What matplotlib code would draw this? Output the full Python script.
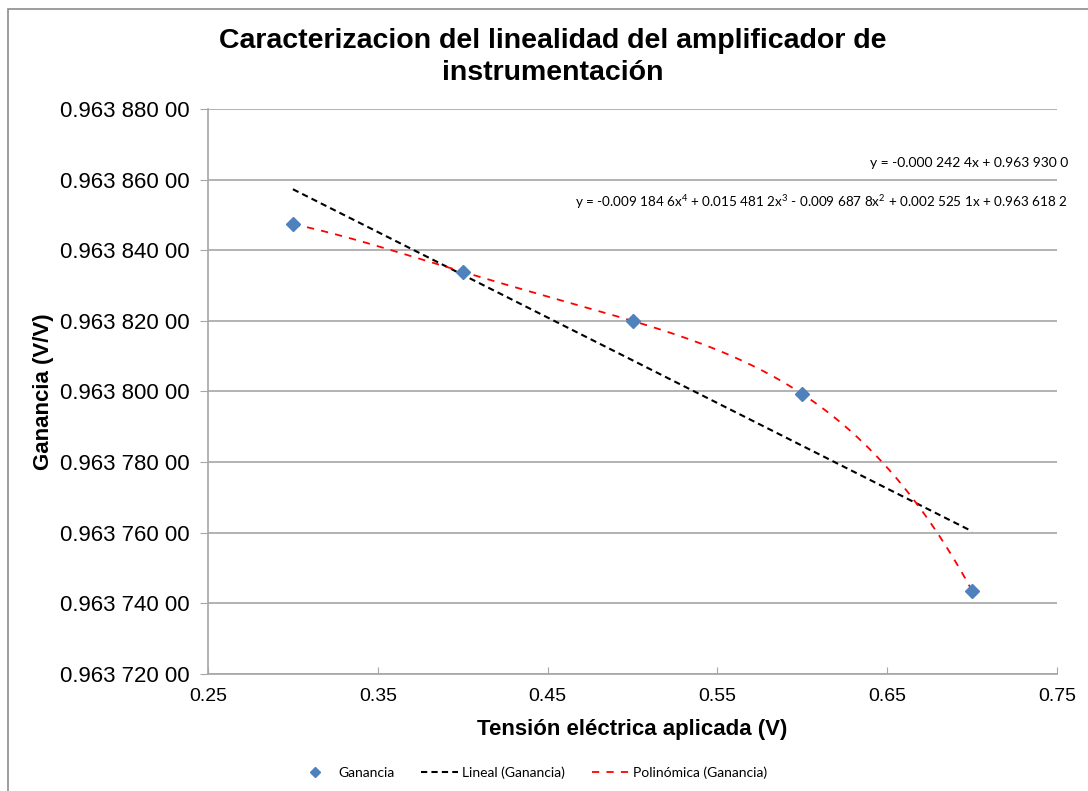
import numpy as np
import matplotlib
matplotlib.use("Agg")
import matplotlib.pyplot as plt
from matplotlib.ticker import FuncFormatter, MultipleLocator, FixedLocator
from matplotlib.patches import Rectangle

plt.rcParams['font.family'] = ['Liberation Sans', 'DejaVu Sans']
plt.rcParams['mathtext.fontset'] = 'custom'
plt.rcParams['mathtext.rm'] = 'Lato'

# data
tension = [0.3, 0.4, 0.5, 0.6, 0.7]
ganancia = [0.9638474, 0.9638339, 0.9638200, 0.9637993, 0.9637436]
x_ticks = [0.25, 0.35, 0.45, 0.55, 0.65, 0.75]

eq_lineal = "y = -0.000 242 4x + 0.963 930 0"
eq_poli = ("y = -0.009 184 6x$^{4}$ + 0.015 481 2x$^{3}$ - 0.009 687 8x$^{2}$"
           " + 0.002 525 1x + 0.963 618 2")

fig = plt.figure(figsize=(10.88, 7.91), dpi=100)
ax = fig.add_axes([208/1088, 1-674/791, (1057-208)/1088, (674-109)/791])

x = np.array(tension)
y = np.array(ganancia)

# trendlines
c1 = np.polyfit(x, y, 1)
c4 = np.polyfit(x, y, 4)
xs = np.linspace(0.3, 0.7, 200)
ax.plot(xs, np.polyval(c1, xs), '--', color='black', lw=1.5, dashes=(3, 2),
        label='Lineal (Ganancia)', zorder=3)
ax.plot(xs, np.polyval(c4, xs), '--', color='#FF0000', lw=1.3, dashes=(4, 4),
        label='Polinómica (Ganancia)', zorder=3)
ax.plot(x, y, 'D', color='#4F81BD', ms=7, label='Ganancia', zorder=4)

ax.set_xlim(0.25, 0.75)
ax.set_ylim(0.96372, 0.96388)
ax.xaxis.set_major_locator(FixedLocator(x_ticks))
ax.yaxis.set_major_locator(MultipleLocator(0.00002))


def fmt_y(v, pos):
    s = f"{v:.8f}"
    a, b = s.split('.')
    return f"{a}.{b[0:3]} {b[3:6]} {b[6:8]}"


ax.yaxis.set_major_formatter(FuncFormatter(fmt_y))
ax.xaxis.set_major_formatter(FuncFormatter(lambda v, p: f"{v:.2f}"))

ax.grid(axis='y', color='#A6A6A6', lw=1.2)
ax.set_axisbelow(True)
for s in ['top', 'right']:
    ax.spines[s].set_visible(False)
for s in ['left', 'bottom']:
    ax.spines[s].set_color('#A6A6A6')
    ax.spines[s].set_linewidth(1.2)
ax.tick_params(axis='y', direction='out', length=6, color='#A6A6A6',
               labelsize=16, pad=7)
ax.tick_params(axis='x', direction='in', length=5, color='#A6A6A6',
               labelsize=14, pad=10)

ax.set_xlabel('Tensión eléctrica aplicada (V)', fontsize=16, fontweight='bold',
              labelpad=10)
ax.set_ylabel('Ganancia (V/V)', fontsize=16, fontweight='bold', labelpad=0)
ax.yaxis.set_label_coords(-(208 - 54)/(1057 - 208), 0.5)

fig.text(553/1088, 1-57/791,
         'Caracterizacion del linealidad del amplificador de\ninstrumentación',
         ha='center', va='center', fontsize=20.5, fontweight='bold',
         linespacing=1.3)

fig.text(1068/1088, 1-163/791, eq_lineal, ha='right', va='center',
         fontsize=10, family='Lato')
fig.text(1068/1088, 1-202/791, eq_poli, ha='right', va='center',
         fontsize=9.7, family='Lato')

h, l = ax.get_legend_handles_labels()
order = [2, 0, 1]
fig.legend([h[i] for i in order], [l[i] for i in order], loc='center',
           bbox_to_anchor=(532/1088, 1-773/791), ncol=3, frameon=False,
           prop={'family': 'Lato', 'size': 10}, handlelength=2.7,
           handletextpad=0.3, columnspacing=1.9, markerscale=0.8)

fig.add_artist(Rectangle((8/1088, -0.5), 2, 1.5 - 9/791,
                         transform=fig.transFigure, fill=False,
                         edgecolor='#8C8C8C', lw=1.2, clip_on=False))

fig.savefig('out.png', dpi=100, facecolor='white')
